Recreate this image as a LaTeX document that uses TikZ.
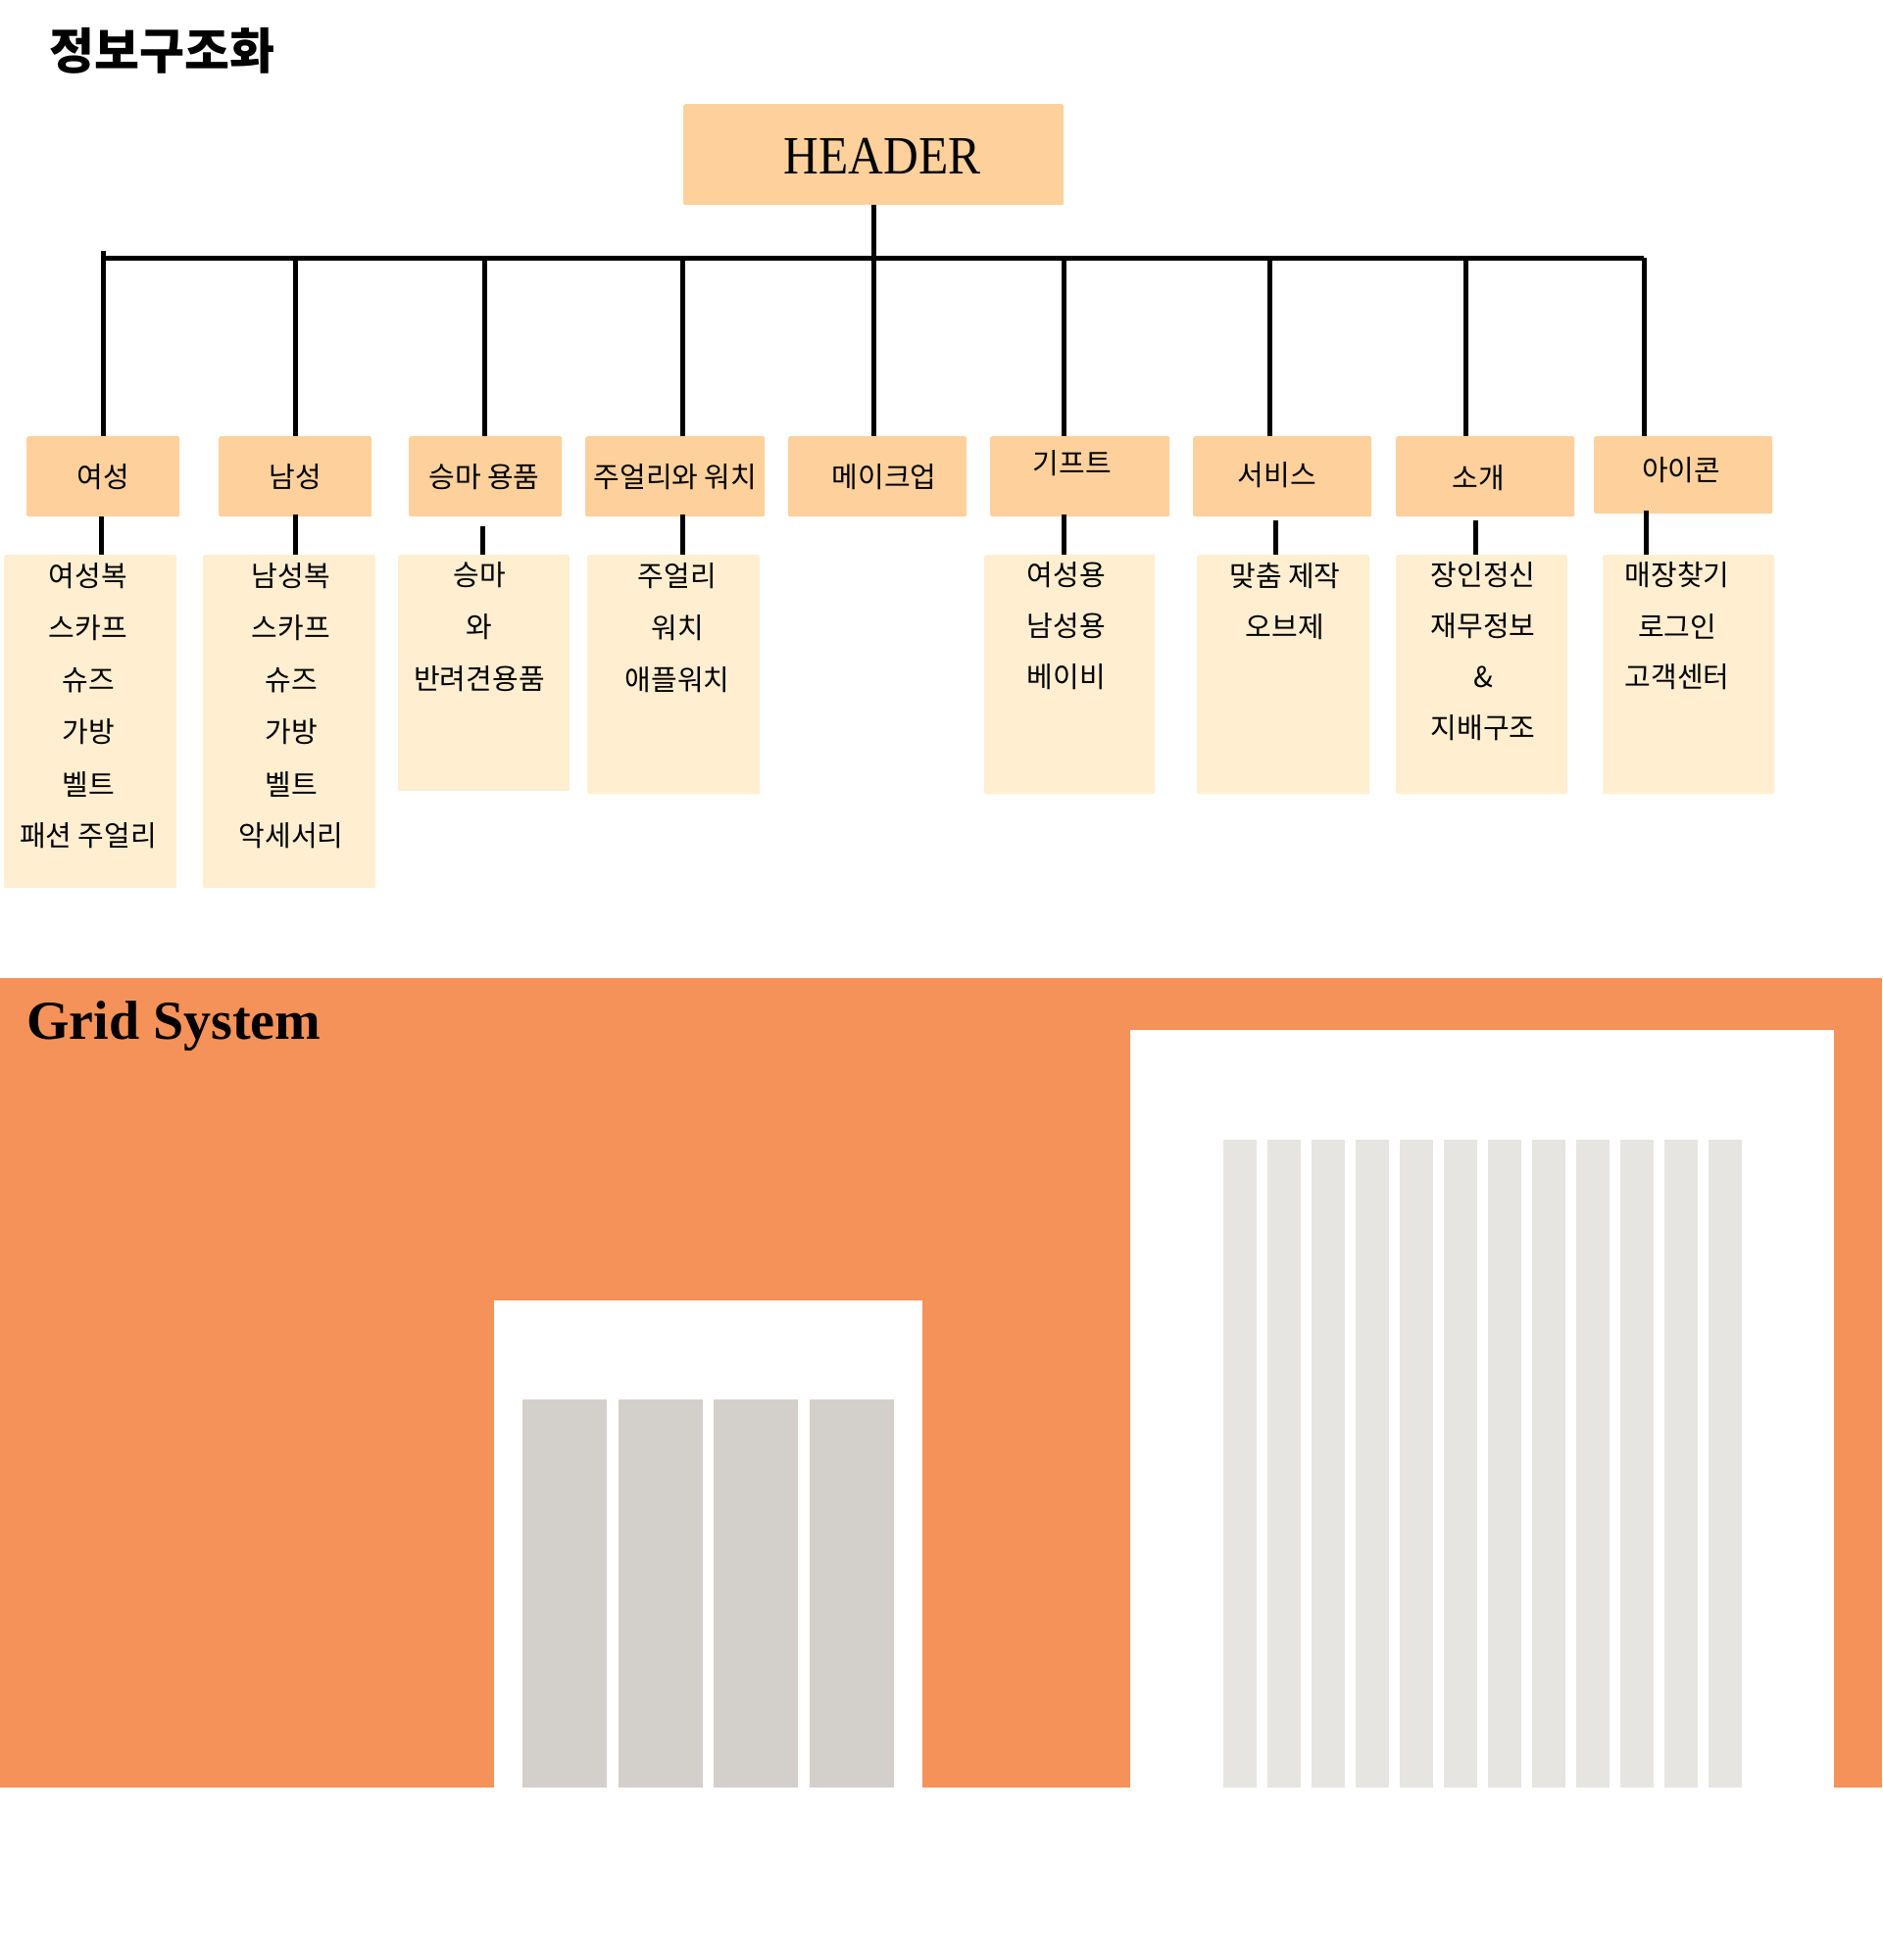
\documentclass[tikz,border=0pt]{standalone}
\usepackage{fontspec}
\usepackage{graphicx}
\setmainfont{Liberation Serif}
\newfontfamily\kr{Noto Sans CJK KR}
\definecolor{hdrfill}{RGB}{254,209,156}
\definecolor{subfill}{RGB}{255,238,208}
\definecolor{gridorange}{RGB}{244,146,89}
\definecolor{coldark}{RGB}{211,208,203}
\definecolor{collight}{RGB}{230,229,225}
\begin{document}
\begin{tikzpicture}[x=1pt,y=-1pt,
  catbox/.style={fill=hdrfill,draw=none,rounded corners=2pt,inner sep=0pt,anchor=north west},
  subbox/.style={fill=subfill,draw=none,rounded corners=2pt,inner sep=0pt,anchor=north west},
  catlabel/.style={inner sep=0pt,font=\kr\fontsize{29}{32}\selectfont},
  itemlabel/.style={inner sep=0pt,font=\kr\fontsize{29}{32}\selectfont},
  conn/.style={line width=5pt,black}]
\useasboundingbox (0,0) rectangle (1920,2000);

% title
\node[inner sep=0pt,font=\kr\bfseries\fontsize{50}{54}\selectfont] (title) at (165,52) {정보구조화};

% header
\node[catbox,minimum width=388pt,minimum height=103pt] (hdr) at (697,106) {};
\node[inner sep=0pt,font=\fontsize{55}{60}\selectfont,anchor=base] (hdrtxt) at (900,177) {\scalebox{0.9}[1]{HEADER}};

% category boxes
\node[catbox,minimum width=156pt,minimum height=82pt] (c1) at (27,445) {};
\node[catbox,minimum width=156pt,minimum height=82pt] (c2) at (223,445) {};
\node[catbox,minimum width=156pt,minimum height=82pt] (c3) at (417,445) {};
\node[catbox,minimum width=183pt,minimum height=82pt] (c4) at (597,445) {};
\node[catbox,minimum width=182pt,minimum height=82pt] (c5) at (804,445) {};
\node[catbox,minimum width=183pt,minimum height=82pt] (c6) at (1010,445) {};
\node[catbox,minimum width=182pt,minimum height=82pt] (c7) at (1217,445) {};
\node[catbox,minimum width=182pt,minimum height=82pt] (c8) at (1424,445) {};
\node[catbox,minimum width=182pt,minimum height=79pt] (c9) at (1626,445) {};

\node[catlabel] (l1) at (105,487) {여성};
\node[catlabel] (l2) at (301,487) {남성};
\node[catlabel] (l3) at (494,487) {승마 용품};
\node[catlabel] (l4) at (689,487) {주얼리와 워치};
\node[catlabel] (l5) at (902,487) {메이크업};
\node[catlabel] (l6) at (1094,473) {기프트};
\node[catlabel] (l7) at (1303,485) {서비스};
\node[catlabel] (l8) at (1508,488) {소개};
\node[catlabel] (l9) at (1715,480) {아이콘};

% sub boxes
\node[subbox,minimum width=176pt,minimum height=340pt] (k1) at (4,566) {};
\node[subbox,minimum width=176pt,minimum height=340pt] (k2) at (207,566) {};
\node[subbox,minimum width=175pt,minimum height=241pt] (k3) at (406,566) {};
\node[subbox,minimum width=176pt,minimum height=244pt] (k4) at (599,566) {};
\node[subbox,minimum width=174pt,minimum height=244pt] (k6) at (1004,566) {};
\node[subbox,minimum width=176pt,minimum height=244pt] (k7) at (1221,566) {};
\node[subbox,minimum width=175pt,minimum height=244pt] (k8) at (1424,566) {};
\node[subbox,minimum width=175pt,minimum height=244pt] (k9) at (1635,566) {};

\foreach \t [count=\i] in {여성복,스카프,슈즈,가방,벨트,패션 주얼리}
  \node[itemlabel] (ia\i) at (90,{588+53*(\i-1)}) {\t};
\foreach \t [count=\i] in {남성복,스카프,슈즈,가방,벨트,악세서리}
  \node[itemlabel] (ib\i) at (297,{588+53*(\i-1)}) {\t};
\foreach \t [count=\i] in {승마,와,반려견용품}
  \node[itemlabel] (ic\i) at (489,{587+53*(\i-1)}) {\t};
\foreach \t [count=\i] in {주얼리,워치,애플워치}
  \node[itemlabel] (id\i) at (691,{588+53*(\i-1)}) {\t};
\foreach \t [count=\i] in {여성용,남성용,베이비}
  \node[itemlabel] (ie\i) at (1088,{587+52*(\i-1)}) {\t};
\foreach \t [count=\i] in {맞춤 제작,오브제}
  \node[itemlabel] (if\i) at (1311,{588+52*(\i-1)}) {\t};
\foreach \t [count=\i] in {장인정신,재무정보,\&,지배구조}
  \node[itemlabel] (ig\i) at (1513,{587+52*(\i-1)}) {\t};
\foreach \t [count=\i] in {매장찾기,로그인,고객센터}
  \node[itemlabel] (ih\i) at (1711,{587+52*(\i-1)}) {\t};

% connectors
\coordinate (barL) at (105,263);
\coordinate (barR) at (1677,263);
\draw[conn] (barL) -- (barR);
\draw[conn] (hdr.south -| 891,0) -- (891,263);
\coordinate (tick) at (105,256);
\draw[conn] (tick) -- (tick |- c1.north);
\foreach \x/\c in {301.5/c2,494/c3,696/c4,891/c5,1085/c6,1295.5/c7,1495/c8,1677/c9}
  \draw[conn] (\x,263) -- (\x,0 |- \c.north);

\coordinate (s1) at (103,527);
\coordinate (s2) at (301.5,525);
\coordinate (s3) at (492,537);
\coordinate (s4) at (696,525);
\coordinate (s6) at (1085,525);
\coordinate (s7) at (1301,531);
\coordinate (s8) at (1505.5,531);
\coordinate (s9) at (1679,521);
\foreach \n in {1,2,3,4,6,7,8,9}
  \draw[conn] (s\n) -- (s\n |- k\n.north);

% grid system
\fill[gridorange] (0,998) rectangle (1920,1824);
\node[inner sep=0pt,anchor=base west,font=\bfseries\fontsize{56}{60}\selectfont] (gridtitle) at (27,1060) {Grid System};
\fill[white] (504,1327) rectangle (941,1824);
\foreach \i in {0,1,2,3}
  \fill[coldark] ({533+97.5*\i},1428) rectangle ++(86,396);
\fill[white] (1153,1051) rectangle (1871,1824);
\foreach \i in {0,...,11}
  \fill[collight] ({1248+45*\i},1163) rectangle ++(34.3,661);
\end{tikzpicture}
\end{document}
